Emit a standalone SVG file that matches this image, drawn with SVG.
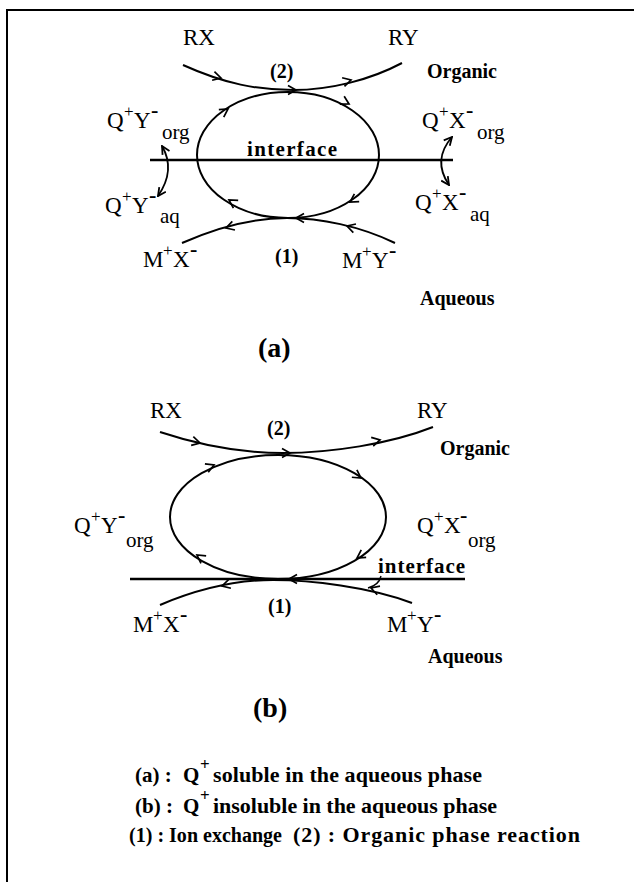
<svg xmlns="http://www.w3.org/2000/svg" width="634" height="882" viewBox="0 0 634 882">
<style>
text{font-family:"Liberation Serif","Times New Roman",serif;fill:#000}
.m{font-size:23px}
.sup{font-size:17px}
.neg{font-size:22px;font-weight:bold}
.sub{font-size:21px}
.b{font-weight:bold;font-size:20px}
.lg{font-weight:bold;font-size:21px}
.big{font-weight:bold;font-size:28px}
.ln{fill:none;stroke:#000;stroke-width:2}
.ifl{fill:none;stroke:#000;stroke-width:2.6}
.dbl{fill:none;stroke:#000;stroke-width:1.8;marker-start:url(#ah);marker-end:url(#ah)}
</style>
<defs>
<path id="ch" d="M-8,-4.5 L0,0 L-8,4.5" fill="none" stroke="#000" stroke-width="1.7"/>
<marker id="ah" viewBox="0 0 10 10" refX="9" refY="5" markerWidth="10" markerHeight="10" markerUnits="userSpaceOnUse" orient="auto-start-reverse">
<path d="M1,1 L9,5 L1,9" fill="none" stroke="#000" stroke-width="1.8"/>
</marker>
</defs>
<rect width="634" height="882" fill="#fff"/>
<g id="frame"><path d="M7,882 V10 H634" fill="none" stroke="#000" stroke-width="2"/></g>

<g id="connectors">
<path class="ln" d="M183,65 C225,84 258,90 293,90 C330,90 370,80 402,63"/>
<ellipse class="ln" cx="288" cy="155" rx="91" ry="63"/>
<path class="ln" d="M182,243 C220,226 255,218 287,218 C320,218 360,226 395,243"/>
<path class="ifl" d="M150,160 H453"/>
<path class="dbl" d="M162,146 Q176,170 158,196"/>
<path class="dbl" d="M452,137 Q432,160 449,185"/>
<use href="#ch" transform="translate(221,78) rotate(15)"/>
<use href="#ch" transform="translate(296,90)"/>
<use href="#ch" transform="translate(351,80) rotate(-15)"/>
<use href="#ch" transform="translate(228,109) rotate(-33)"/>
<use href="#ch" transform="translate(349,104) rotate(29)"/>
<use href="#ch" transform="translate(229,200) rotate(-148)"/>
<use href="#ch" transform="translate(350,202) rotate(148)"/>
<use href="#ch" transform="translate(296,218) rotate(180)"/>
<use href="#ch" transform="translate(226,228) rotate(163)"/>
<use href="#ch" transform="translate(347,226) rotate(197)"/>
<path class="ln" d="M160,432 C205,447 245,453 283,453 C330,453 390,444 433,427"/>
<ellipse class="ln" cx="278" cy="517" rx="108" ry="62"/>
<path class="ln" d="M160,605 C200,588 240,580 273,580 C310,580 370,587 412,603"/>
<path class="ifl" d="M130,579 H465"/>
<path class="ln" d="M368,588 Q379,585 381,576" style="stroke-width:1.4"/>
<use href="#ch" transform="translate(200,443) rotate(14)"/>
<use href="#ch" transform="translate(290,453)"/>
<use href="#ch" transform="translate(380,440) rotate(-13)"/>
<use href="#ch" transform="translate(214,465) rotate(-22)"/>
<use href="#ch" transform="translate(361,478) rotate(34)"/>
<use href="#ch" transform="translate(197,555) rotate(-145)"/>
<use href="#ch" transform="translate(357,558) rotate(147)"/>
<use href="#ch" transform="translate(289,579) rotate(180)"/>
<use href="#ch" transform="translate(222,586) rotate(165)"/>
<use href="#ch" transform="translate(371,588) rotate(198)"/>
</g>

<g id="a-RX"><text class="m" x="183" y="45">RX</text></g>
<g id="a-RY"><text class="m" x="388" y="45">RY</text></g>
<g id="a-2"><text class="b" x="270" y="78">(2)</text></g>
<g id="a-organic"><text class="b" x="427" y="78">Organic</text></g>
<g id="a-QYorg"><text class="m" x="107" y="128">Q</text><text class="sup" x="124" y="117">+</text><text class="m" x="134" y="128">Y</text><text class="neg" x="151" y="117">-</text><text class="sub" x="162" y="139">org</text></g>
<g id="a-QXorg"><text class="m" x="422" y="128">Q</text><text class="sup" x="439" y="117">+</text><text class="m" x="449" y="128">X</text><text class="neg" x="466" y="117">-</text><text class="sub" x="477" y="139">org</text></g>
<g id="a-interface"><text class="lg" x="247" y="156" textLength="90">interface</text></g>
<g id="a-QYaq"><text class="m" x="105" y="213">Q</text><text class="sup" x="122" y="202">+</text><text class="m" x="132" y="213">Y</text><text class="neg" x="149" y="202">-</text><text class="sub" x="160" y="223">aq</text></g>
<g id="a-QXaq"><text class="m" x="415" y="210">Q</text><text class="sup" x="432" y="199">+</text><text class="m" x="442" y="210">X</text><text class="neg" x="459" y="199">-</text><text class="sub" x="470" y="221">aq</text></g>
<g id="a-MX"><text class="m" x="143" y="267">M</text><text class="sup" x="163" y="256">+</text><text class="m" x="173" y="267">X</text><text class="neg" x="190" y="256">-</text></g>
<g id="a-1"><text class="b" x="275" y="263">(1)</text></g>
<g id="a-MY"><text class="m" x="342" y="268">M</text><text class="sup" x="362" y="257">+</text><text class="m" x="372" y="268">Y</text><text class="neg" x="389" y="257">-</text></g>
<g id="a-aqueous"><text class="b" x="420" y="305">Aqueous</text></g>
<g id="a-label"><text class="big" x="258" y="357">(a)</text></g>

<g id="b-RX"><text class="m" x="150" y="418">RX</text></g>
<g id="b-RY"><text class="m" x="417" y="418">RY</text></g>
<g id="b-2"><text class="b" x="267" y="435">(2)</text></g>
<g id="b-organic"><text class="b" x="440" y="455">Organic</text></g>
<g id="b-QYorg"><text class="m" x="74" y="533">Q</text><text class="sup" x="91" y="522">+</text><text class="m" x="101" y="533">Y</text><text class="neg" x="118" y="522">-</text><text class="sub" x="126" y="547">org</text></g>
<g id="b-QXorg"><text class="m" x="417" y="533">Q</text><text class="sup" x="434" y="522">+</text><text class="m" x="444" y="533">X</text><text class="neg" x="460" y="522">-</text><text class="sub" x="468" y="547">org</text></g>
<g id="b-interface"><text class="lg" x="378" y="573" textLength="87">interface</text></g>
<g id="b-1"><text class="b" x="268" y="613">(1)</text></g>
<g id="b-MX"><text class="m" x="133" y="632">M</text><text class="sup" x="153" y="621">+</text><text class="m" x="163" y="632">X</text><text class="neg" x="180" y="621">-</text></g>
<g id="b-MY"><text class="m" x="387" y="632">M</text><text class="sup" x="407" y="621">+</text><text class="m" x="417" y="632">Y</text><text class="neg" x="434" y="621">-</text></g>
<g id="b-aqueous"><text class="b" x="428" y="663">Aqueous</text></g>
<g id="b-label"><text class="big" x="253" y="717">(b)</text></g>

<g id="legend">
<text class="lg" x="135" y="782">(a) :</text><text class="lg" x="183" y="782">Q</text><text class="lg" x="200" y="770" style="font-size:17px">+</text><text class="lg" x="213" y="782" style="font-size:22px" textLength="269">soluble in the aqueous phase</text>
<text class="lg" x="135" y="813">(b) :</text><text class="lg" x="183" y="813">Q</text><text class="lg" x="200" y="801" style="font-size:17px">+</text><text class="lg" x="213" y="813" style="font-size:22px" textLength="284">insoluble in the aqueous phase</text>
<text class="lg" x="129" y="842" style="font-size:20px" textLength="153">(1) : Ion exchange</text><text class="lg" x="293" y="842" style="font-size:22px" textLength="287">(2) : Organic phase reaction</text>
</g>
</svg>
